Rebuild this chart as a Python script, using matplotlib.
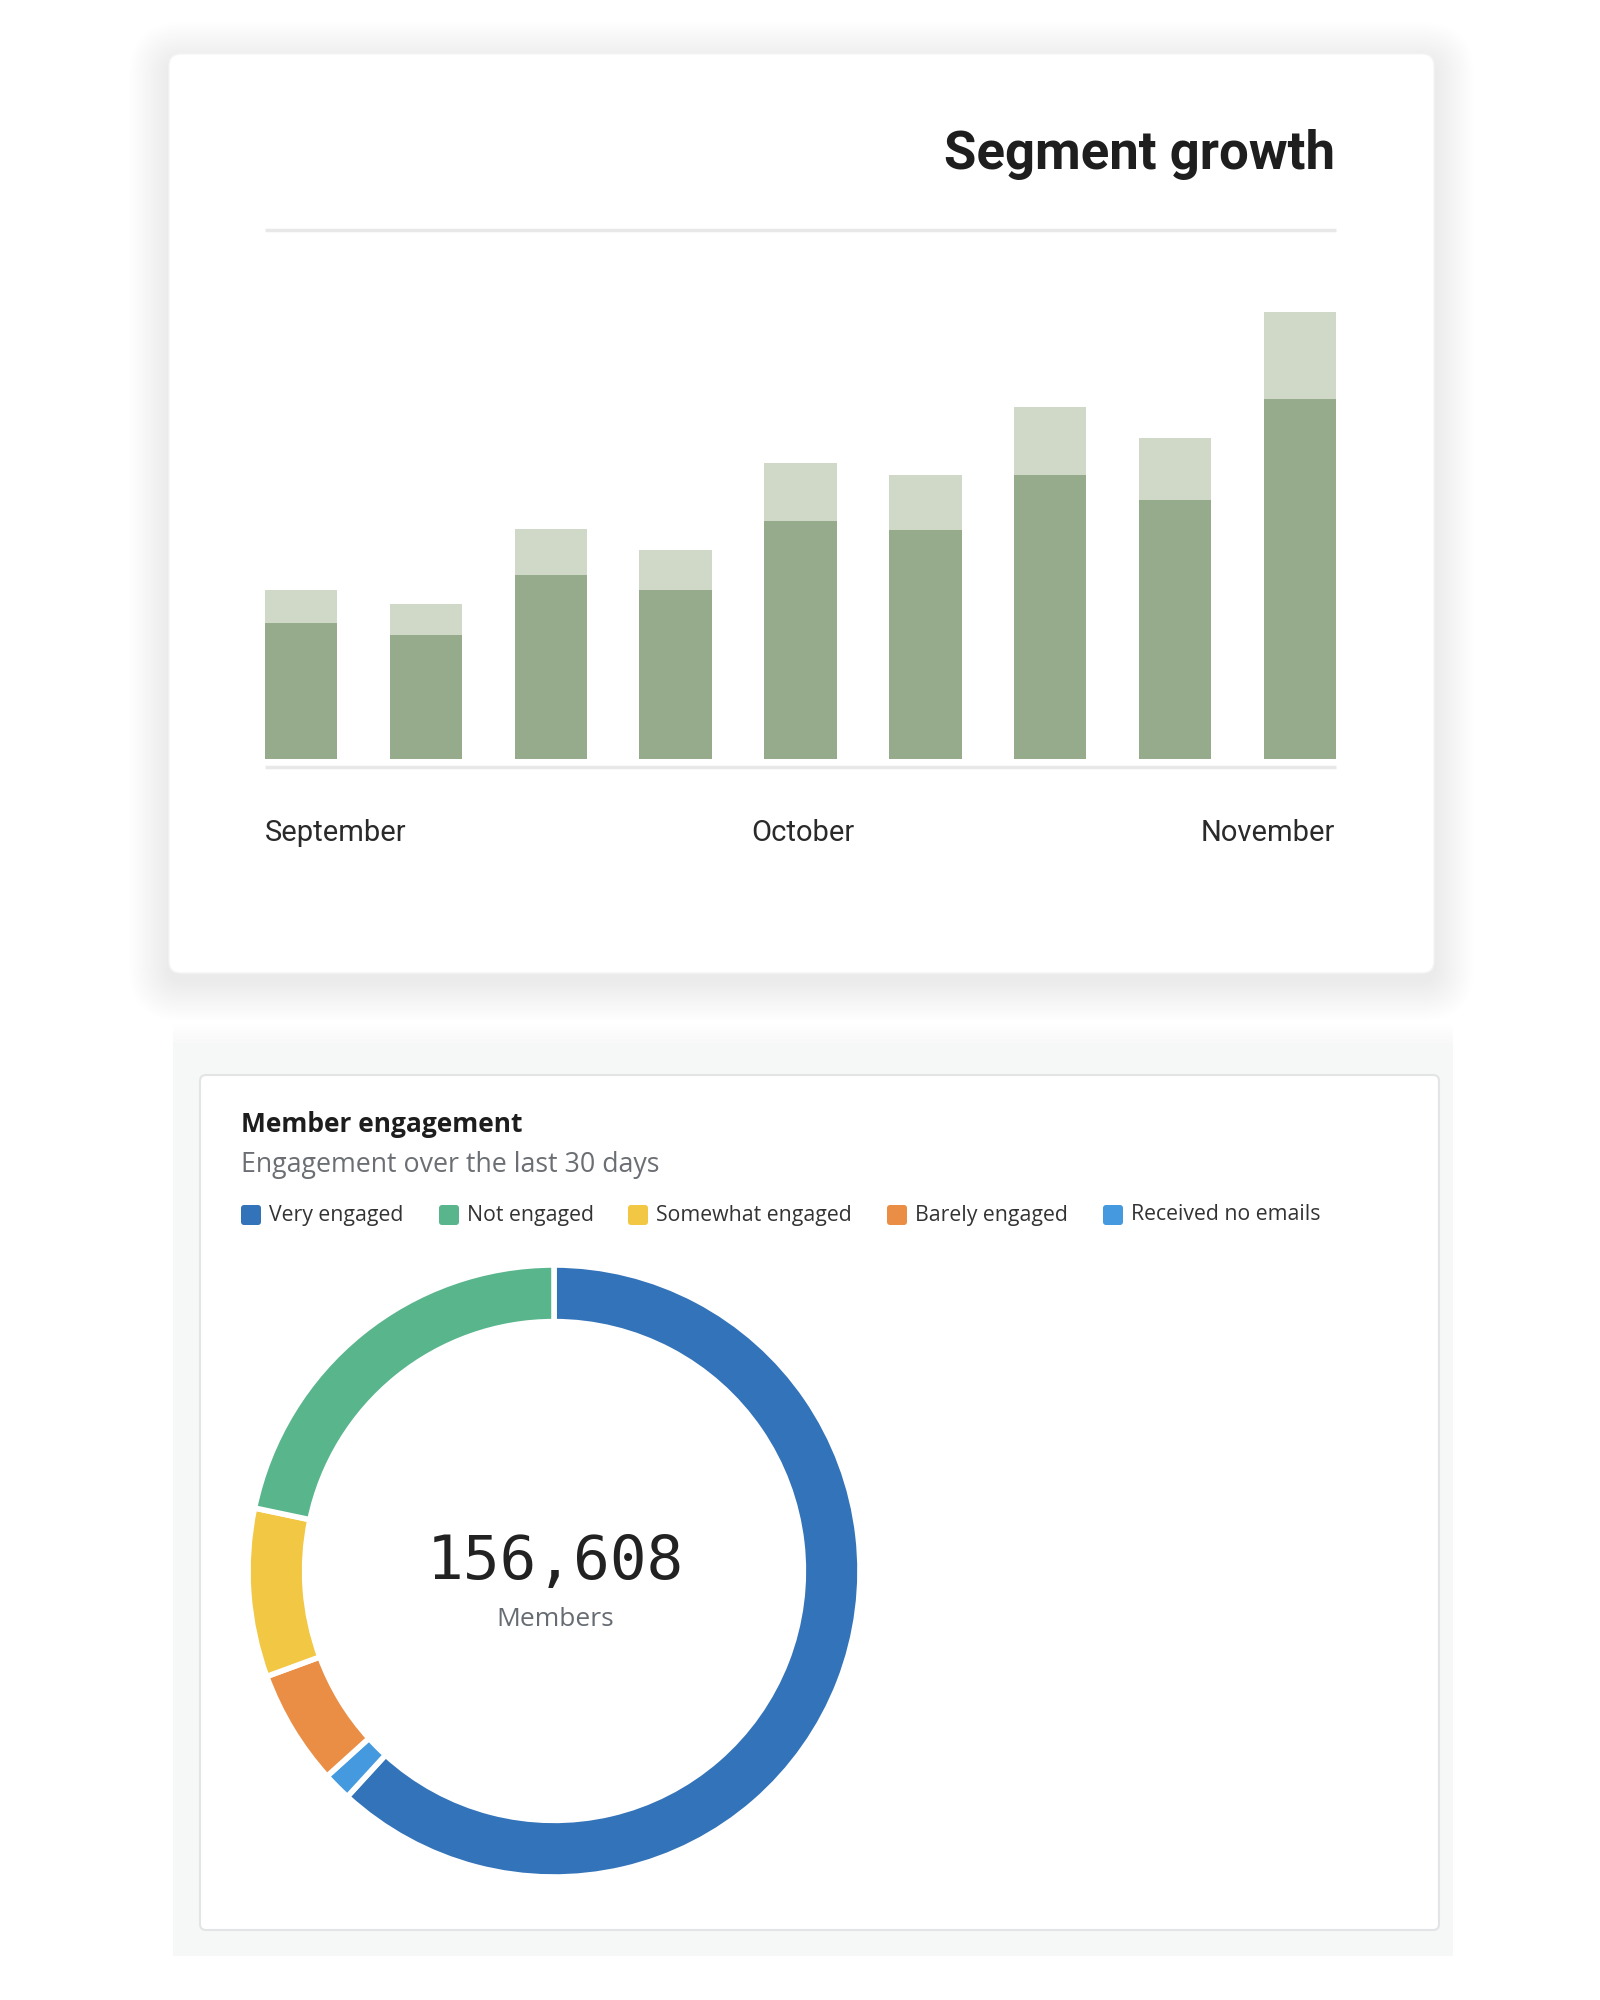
import matplotlib.pyplot as plt
from matplotlib.patches import FancyBboxPatch, Rectangle

# bar chart data (arbitrary units)
months = ["September", "October", "November"]
base_vals = [106, 97, 144, 132, 186, 179, 222, 202, 281]
top_vals = [26, 24, 36, 31, 45, 43, 53, 49, 68]

# donut data (percent of members)
eng_labels = ["Very engaged", "Not engaged", "Somewhat engaged", "Barely engaged", "Received no emails"]
eng_share = [61.8, 21.7, 8.9, 6.1, 1.5]
eng_colors = ["#3373B9", "#58B58C", "#F2C744", "#E98E44", "#4599DF"]
total_members = "156,608"

W, H = 1600, 2000
fig = plt.figure(figsize=(16, 20), dpi=100)
fig.patch.set_facecolor("white")

bg = fig.add_axes([0, 0, 1, 1])
bg.set_xlim(0, W)
bg.set_ylim(H, 0)
bg.axis("off")


def fx(x):
    return x / W


def fy(y):
    return 1 - y / H


# ---- top card with soft shadow
for i in range(20):
    pad = 2 + i * 2.0
    bg.add_patch(FancyBboxPatch((169 - pad, 54 - pad + 8), 1265 + 2 * pad, 919 + 2 * pad,
                                boxstyle="round,pad=0,rounding_size=%d" % (14 + pad),
                                fc="black", ec="none", alpha=0.0022))
bg.add_patch(FancyBboxPatch((169, 54), 1265, 919, boxstyle="round,pad=0,rounding_size=12",
                            fc="white", ec="#f5f5f5", lw=1))

bg.text(1335, 154, "Segment growth", ha="right", va="center", fontsize=38,
        fontweight="bold", color="#1e1e1e", family="Roboto")
bg.plot([265, 1336], [230, 230], color="#e8e8e8", lw=2.5, solid_capstyle="butt")
bg.plot([265, 1336], [767, 767], color="#e8e8e8", lw=2.5, solid_capstyle="butt")

bg.text(265, 833, months[0], ha="left", va="center", fontsize=21, color="#2a2a2a", family="Roboto")
bg.text(803, 833, months[1], ha="center", va="center", fontsize=21, color="#2a2a2a", family="Roboto")
bg.text(1335, 833, months[2], ha="right", va="center", fontsize=21, color="#2a2a2a", family="Roboto")

# bars
ax = fig.add_axes([fx(265), fy(759), fx(1336) - fx(265), fy(247) - fy(759)])
ax.set_facecolor("none")
xs = list(range(len(base_vals)))
ax.bar(xs, base_vals, width=0.58, color="#96AB8C")
ax.bar(xs, top_vals, bottom=base_vals, width=0.58, color="#D0D8C8")
ax.set_xlim(-0.29, len(base_vals) - 1 + 0.29)
ax.set_ylim(0, 400)
ax.axis("off")

# ---- bottom panel
bg.add_patch(Rectangle((173, 1043), 1280, 913, fc="#f6f7f7", ec="none"))
for i in range(6):
    bg.add_patch(Rectangle((173, 1043 - 4 - i * 3), 1280, 4 + i * 3, fc="#000000", ec="none", alpha=0.003))
bg.add_patch(FancyBboxPatch((200, 1075), 1239, 855, boxstyle="round,pad=0,rounding_size=6",
                            fc="white", ec="#e2e4e5", lw=1.5))

bg.text(241, 1125, "Member engagement", ha="left", va="center", fontsize=19,
        fontweight="bold", color="#1d1d1d", family="Open Sans")
bg.text(241, 1165, "Engagement over the last 30 days", ha="left", va="center", fontsize=19.3,
        color="#6b6f73", family="Open Sans")

leg_x = [241, 439, 628, 887, 1103]
for lx, lab, col in zip(leg_x, eng_labels, eng_colors):
    bg.add_patch(FancyBboxPatch((lx, 1205), 20, 20, boxstyle="round,pad=0,rounding_size=3",
                                fc=col, ec="none"))
    bg.text(lx + 28, 1215, lab, ha="left", va="center", fontsize=15.3,
            color="#333333", family="Open Sans")

# donut, drawn clockwise from the top
order = [0, 4, 3, 2, 1]
dax = fig.add_axes([fx(234), fy(1891), 640 / W, 640 / H])
dax.pie([eng_share[i] for i in order], colors=[eng_colors[i] for i in order],
        startangle=90, counterclock=False, radius=1,
        wedgeprops=dict(width=0.185, edgecolor="white", linewidth=4))
lim = 320 / 306
dax.set_xlim(-lim, lim)
dax.set_ylim(-lim, lim)
dax.set_aspect("equal")
dax.axis("off")

bg.text(555, 1562, total_members, ha="center", va="center", fontsize=44,
        color="#222222", family="DejaVu Sans Mono")
bg.text(555, 1620, "Members", ha="center", va="center", fontsize=19,
        color="#666c72", family="Open Sans")

fig.savefig("out.png", dpi=100)
